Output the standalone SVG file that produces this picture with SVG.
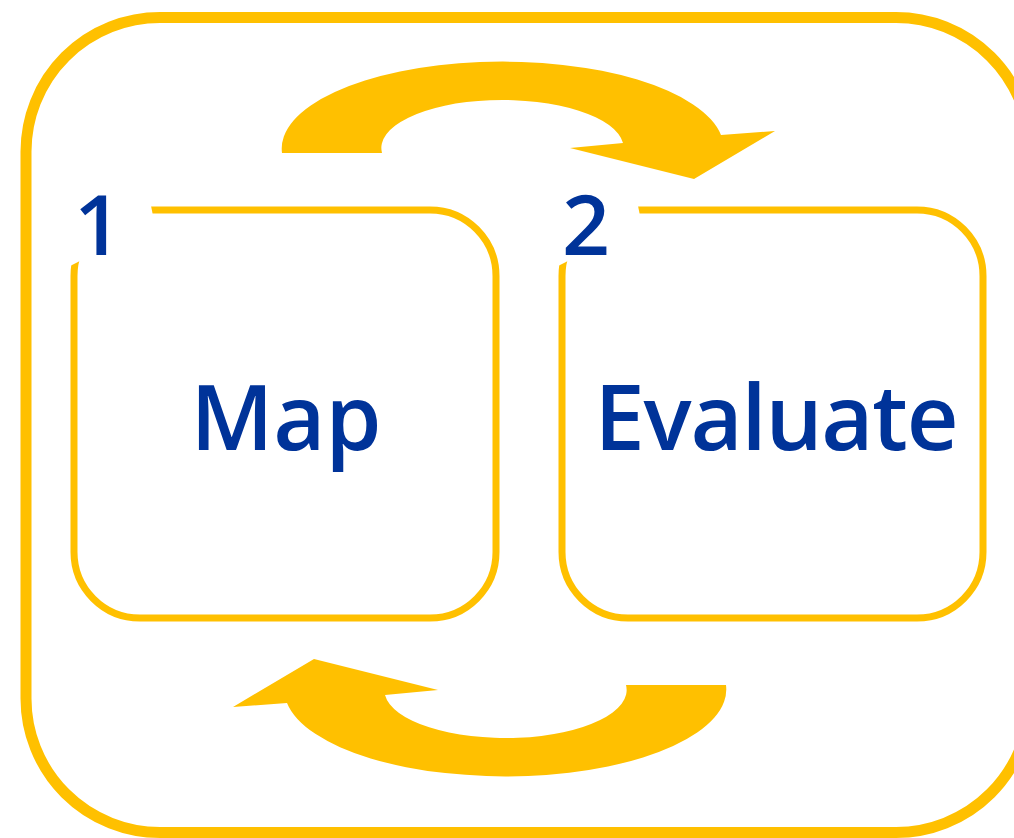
<svg xmlns="http://www.w3.org/2000/svg" width="1014" height="838" viewBox="0 0 1014 838">
<style>
.frame{fill:none;stroke:#FFC000;stroke-width:11}
.box{fill:none;stroke:#FFC000;stroke-width:7}
.mask{fill:#FFFFFF}
.arrow{fill:#FFC000}
.num{font-family:"Open Sans","Noto Sans","DejaVu Sans",sans-serif;font-weight:600;font-size:84px;fill:#003399}
.lbl{font-family:"Open Sans","Noto Sans","DejaVu Sans",sans-serif;font-weight:600;font-size:90px;fill:#003399}
</style>
<rect width="1014" height="838" fill="#FFFFFF"/>
<g id="frame">
<rect class="frame" x="26" y="17.5" width="1004" height="815" rx="134" ry="134"/>
</g>
<g id="node1">
<rect class="box" x="74" y="210" width="422" height="408" rx="66" ry="66"/>
<polygon class="mask" points="60,190 148,190 153,216 78,262 70,266 60,266"/>
<text class="num" x="98" y="255" text-anchor="middle">1</text>
<text class="lbl" x="286" y="450" text-anchor="middle">Map</text>
</g>
<g id="node2">
<rect class="box" x="562" y="210" width="421" height="408" rx="66" ry="66"/>
<polygon class="mask" points="548,190 635,190 640,216 566,262 558,266 548,266"/>
<text class="num" x="586" y="255" text-anchor="middle">2</text>
<text class="lbl" x="776" y="450" text-anchor="middle" letter-spacing="-1.2">Evaluate</text>
</g>
<g id="connectors">
<path id="arrow-top" class="arrow" d="M282,153 A221,87 0 0 1 721,135 L775,131 L694,179 L570,148 L623,143 A121,48 0 0 0 382,153 Z"/>
<path id="arrow-bottom" class="arrow" d="M282,153 A221,87 0 0 1 721,135 L775,131 L694,179 L570,148 L623,143 A121,48 0 0 0 382,153 Z" transform="rotate(180 504 419)"/>
</g>
</svg>
